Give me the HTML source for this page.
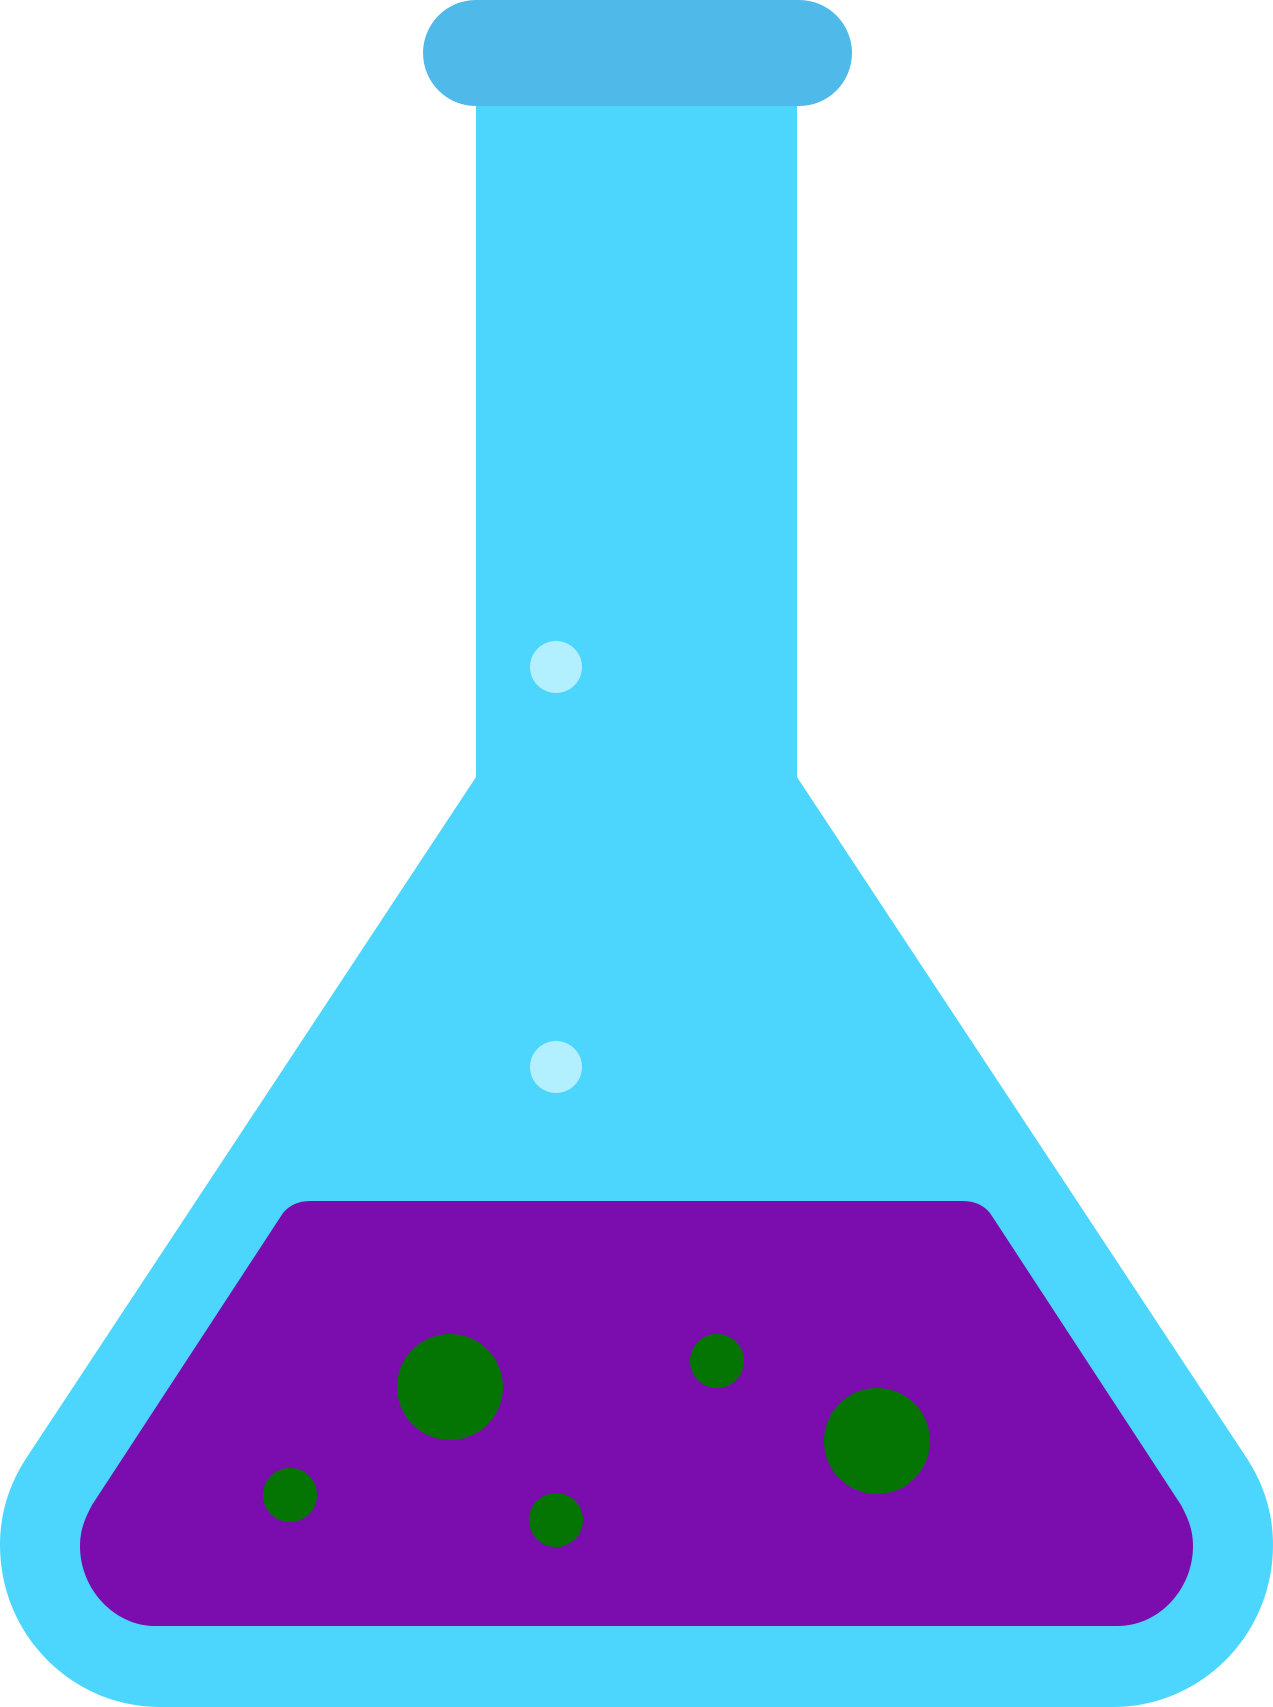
<!DOCTYPE html>
<html><head><meta charset="utf-8"><style>
html,body{margin:0;padding:0;background:#fff;}
svg{display:block;}
</style></head><body>
<svg width="1273" height="1707" viewBox="0 0 1273 1707">
  <path fill="#4cd6fe"
    d="M476,100 L797,100 L797,777 L1248,1460 C1265,1487 1273,1515 1273,1545 C1273,1635 1201,1707 1113,1707 L160,1707 C72,1707 0,1635 0,1545 C0,1515 8,1487 25,1460 L476,777 Z"/>
  <rect x="423" y="0" width="429" height="106" rx="53" fill="#4fb9ea"/>
  <path fill="#7b0dae"
    d="M310,1201 L963,1201 Q980,1201 990,1213 L1181,1505 C1188,1518 1193,1530 1193,1546 C1193,1590 1158,1626 1118,1626 L155,1626 C115,1626 80,1590 80,1546 C80,1530 85,1518 92,1505 L283,1213 Q293,1201 310,1201 Z"/>
  <circle cx="556" cy="667" r="26" fill="#b3f0ff"/>
  <circle cx="556" cy="1067" r="26" fill="#b3f0ff"/>
  <circle cx="450" cy="1387" r="53" fill="#047502"/>
  <circle cx="290" cy="1495" r="27" fill="#047502"/>
  <circle cx="556" cy="1520" r="27" fill="#047502"/>
  <circle cx="717" cy="1361" r="27" fill="#047502"/>
  <circle cx="877" cy="1441" r="53" fill="#047502"/>
</svg>
</body></html>
